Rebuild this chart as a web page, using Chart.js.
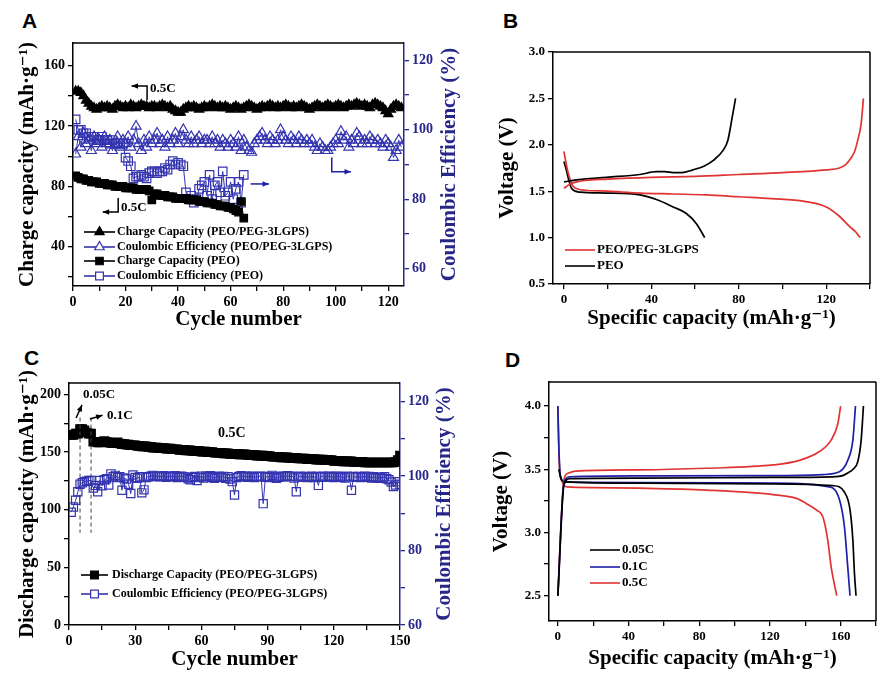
<!DOCTYPE html>
<html>
<head>
<meta charset="utf-8">
<title>LGPS cells</title>
<script src="https://cdn.jsdelivr.net/npm/chart.js@4.4.1/dist/chart.umd.min.js"></script>
<style>
  body { margin: 0; background: #fff; width: 880px; height: 681px; position: relative; overflow: hidden; }
  canvas { position: absolute; }
  .tag { position: absolute; font: bold 21px "Liberation Sans", Arial, sans-serif; line-height: 21px; }
</style>
</head>
<body>
<div class="tag" style="left:22px;top:10px">A</div>
<div class="tag" style="left:503px;top:10px">B</div>
<div class="tag" style="left:24px;top:347px">C</div>
<div class="tag" style="left:505px;top:349px">D</div>
<canvas id="chartA" width="470" height="340" style="left:0;top:0"></canvas>
<canvas id="chartB" width="410" height="340" style="left:470px;top:0"></canvas>
<canvas id="chartC" width="470" height="341" style="left:0;top:340px"></canvas>
<canvas id="chartD" width="410" height="341" style="left:470px;top:340px"></canvas>
<script>
// ---- panel A : cycling at 0.5C (cycle 1..n) ----
const aPegCap = [
  143,143,142,140,137,135,133,132,131,132,
  133,132,133,132,131,133,134,133,132,133,
  132,134,133,132,133,134,133,133,132,133,
  133,132,133,134,133,132,133,131,130,129,
  129,131,132,133,132,133,132,131,132,133,
  132,133,134,133,132,133,132,133,132,131,
  132,133,132,131,132,133,134,133,132,131,
  132,133,132,133,134,133,132,133,132,133,
  134,133,132,133,132,133,134,133,132,131,
  132,133,134,133,132,133,134,133,132,133,
  134,133,132,133,134,133,134,135,134,133,
  134,133,132,134,135,134,133,132,130,128,
  131,133,134,133,132
];
const aPegCE = [
  93,98,95,99,96,97,94,98,96,97,
  95,98,96,97,94,96,98,95,97,96,
  98,95,97,101,96,94,97,95,98,96,
  97,99,96,97,95,98,96,97,99,96,
  98,100,97,96,98,96,97,98,96,97,
  97,96,98,96,97,95,97,96,95,97,
  96,95,98,94,97,95,94,93.5,96,97,
  98,99,97,96,98,97,96,97,100,98,
  97,96,98,97,96,98,97,96,97,96,
  97,95,94,96,95,94,94,95,96,97,
  96,99.5,97,98,95,97,96,99,98,96,
  97,96,98,97,96,97,96,95,97,96,
  95,92,94,97,95
];
const aPeoCap = [
  87,86,85,85,84,84,83,83,83,82,
  82,82,81,81,81,80,80,80,80,79,
  79,79,79,78,78,78,78,78,77,71,
  75,75,74,74,74,73,73,73,72,72,
  72,72,72,71,71,71,71,70,70,70,
  69,69,69,68,68,67,67,67,66,66,
  65,64,63,70,59
];
const aPeoCE = [
  103,100,100,99,99,98,98,98,97,97,
  98,97,97,96,97,96,96,96,96,92,
  91,89.5,86,86.5,86.5,87,86.5,86,87.5,88,
  88,87.5,88,88,89,88.5,90,91,90,90.5,
  90,89.5,82,80,81,79,80,83,84,85,
  81,87,80,84,85,82,88,81,82,85,
  80,83,85,79,87
];
const aLabels = ['Charge Capacity (PEO/PEG-3LGPS)', 'Coulombic Efficiency (PEO/PEG-3LGPS)',
                 'Charge Capacity (PEO)', 'Coulombic Efficiency (PEO)'];
const aXTicks = [0,10,20,30,40,50,60,70,80,90,100,110,120];
const aXLabels = [0,20,40,60,80,100,120];
const aYTicks = [20,40,60,80,100,120,140,160];
const aYLabels = [40,80,120,160];
const aY2Ticks = [60,70,80,90,100,110,120];
const aY2Labels = [60,80,100,120];

// ---- panel B : voltage profiles ----
const bPegChgCap = [0, 3, 8, 20, 40, 60, 80, 100, 120, 126, 129, 131.4, 133, 134.4, 135.9, 137];
const bPegChgV   = [1.53, 1.58, 1.61, 1.63, 1.65, 1.66, 1.68, 1.70, 1.73, 1.75, 1.79, 1.86, 1.93, 2.05, 2.22, 2.5];
const bPegDisCap = [0, 1, 2, 4.3, 10, 20, 35, 50, 65, 80, 95, 110, 120, 126, 130.6, 133.5, 135.5];
const bPegDisV   = [1.93, 1.80, 1.69, 1.55, 1.51, 1.50, 1.48, 1.47, 1.46, 1.44, 1.42, 1.39, 1.33, 1.23, 1.12, 1.06, 1.0];
const bPeoChgCap = [0, 5, 19.5, 34.7, 42.3, 46, 50, 54, 59, 64, 68.2, 72.8, 75, 77, 78.5];
const bPeoChgV   = [1.60, 1.62, 1.65, 1.68, 1.71, 1.71, 1.70, 1.70, 1.73, 1.77, 1.83, 1.94, 2.05, 2.30, 2.50];
const bPeoDisCap = [0, 1, 2, 3.5, 7.3, 19.5, 34.7, 42.3, 50, 56, 60.6, 64.4];
const bPeoDisV   = [1.82, 1.74, 1.64, 1.53, 1.49, 1.48, 1.46, 1.41, 1.33, 1.26, 1.15, 1.0];
const bXTicks = [0,20,40,60,80,100,120,140];
const bXLabels = [0,40,80,120];
const bYTicks = [0.5,1.0,1.5,2.0,2.5,3.0];

// ---- panel C : rate then 0.5C cycling ----
const cCap = [
  165,165,166,166,170,170,169,167,166,166,
  159,159,158.5,158.5,159,159.5,159,158.5,158,158,
  158,158.5,157.5,157,157,156.5,156.5,156,156,156,
  155.5,155.5,155,155,155,154.5,154.5,154,154,154,
  153.5,153.5,153.5,153,153,153,152.5,152.5,152.5,152,
  152,152,151.5,151.5,151.5,151,151,151,151,150.5,
  150.5,150.5,150,150,150,149.5,149.5,149.5,149.5,149,
  149,149,148.5,148.5,148.5,148.5,148,148,148,148,
  147.5,147.5,147.5,147.5,147,147,147,147,146.5,146.5,
  146.5,146,146,146,146,145.5,145.5,145.5,145.5,145,
  145,145,145,144.5,144.5,144.5,144.5,144,144,144,
  144,143.5,143.5,143.5,143.5,143,143,143,143,142.5,
  142.5,142.5,142.5,142,142,142,142,142,141.5,141.5,
  141.5,141.5,141.5,141,141,141,141,141,141,141,
  141,141,141,141,141,141,141,141.5,143,147
];
const cCE = [
  90.3,91.7,93.5,95.8,97.8,98.2,98.5,98.6,98.8,98.8,
  96.8,97.5,95.8,98.8,97.4,99,99.3,97.6,100.6,99.8,
  100.2,99.6,99.8,96.2,99.5,99.2,97.8,95.3,100.3,99.6,
  99.4,99.8,95.5,96.3,99.6,99.8,100,100.2,99.9,100,
  99.8,100,100.1,99.7,99.9,100,99.8,100.1,99.6,99.9,
  100,99.8,99.7,99.3,99,99.6,99.9,98.8,99.7,100,
  99.5,100,99.8,100.1,99.6,99.4,99.8,100,99.7,99.9,
  99.4,99.8,99.2,98.5,94.9,99.6,99.9,100.1,99.8,100,
  99.7,99.9,100,99.6,99.8,99.9,100,92.6,99.7,99.9,
  99.6,100.2,99.8,99.4,99.7,100,99.9,99.8,100.1,99.9,
  100,99.5,95.8,99.8,100,99.7,99.9,99.6,99.8,100,
  99.6,99.9,97.5,99.8,100,99.7,99.9,100,99.8,99.6,
  99.9,100,99.7,99.8,99.5,100,99.8,96.2,99.9,99.7,
  99.9,99.6,99.8,100,99.7,99.9,99.5,99.8,99.6,99.4,
  99.7,99.5,99.8,99.3,99,98.4,97.2,97.6,98.5,97.8
];
const cXTicks = [0,15,30,45,60,75,90,105,120,135,150];
const cXLabels = [0,30,60,90,120,150];
const cYTicks = [0,25,50,75,100,125,150,175,200];
const cYLabels = [0,50,100,150,200];
const cY2Ticks = [60,70,80,90,100,110,120];
const cY2Labels = [60,80,100,120];

// ---- panel D : voltage profiles at three rates ----
const dBlackChgCap = [0, 3.5, 6.8, 46, 121.7, 155, 161.2, 164, 167, 169.7, 171.6, 172.9];
const dBlackChgV   = [2.5, 3.38, 3.425, 3.43, 3.435, 3.44, 3.45, 3.47, 3.50, 3.56, 3.73, 4.0];
const dBlackDisCap = [0.5, 2, 4, 46, 121.7, 155.6, 162.1, 165.3, 166.9, 167.8, 168.7];
const dBlackDisV   = [3.5, 3.42, 3.40, 3.39, 3.385, 3.37, 3.32, 3.18, 2.94, 2.68, 2.5];
const dBlueChgCap  = [0, 3.5, 6.8, 46, 121.7, 150, 159.3, 164, 166.9, 168.4];
const dBlueChgV    = [2.5, 3.40, 3.44, 3.447, 3.45, 3.458, 3.48, 3.57, 3.73, 4.0];
const dBlueDisCap  = [0, 0.5, 1.5, 4, 46, 121.7, 153.7, 159.3, 162.1, 164, 165.3];
const dBlueDisV    = [4.0, 3.7, 3.44, 3.40, 3.395, 3.39, 3.36, 3.26, 3.05, 2.73, 2.5];
const dRedChgCap   = [0, 3.5, 6, 10, 46, 84, 121.7, 136.7, 148, 154.6, 158.4, 160];
const dRedChgV     = [2.5, 3.42, 3.47, 3.485, 3.495, 3.508, 3.534, 3.57, 3.64, 3.73, 3.86, 4.0];
const dRedDisCap   = [0, 1, 2.5, 5, 20, 46, 84, 121.7, 135, 140.5, 146, 150, 152.7, 154.6, 157.8];
const dRedDisV     = [4.0, 3.5, 3.40, 3.36, 3.355, 3.35, 3.335, 3.30, 3.27, 3.23, 3.18, 3.12, 2.94, 2.73, 2.5];
const dXTicks = [0,20,40,60,80,100,120,140,160,180];
const dXLabels = [0,40,80,120,160];
const dYTicks = [2.5,2.75,3.0,3.25,3.5,3.75,4.0];
const dYLabels = [2.5,3.0,3.5,4.0];

// ---- common stuff ----
const serif = '"Liberation Serif", "Times New Roman", "DejaVu Serif", serif';
const navy = '#27278a';
const ceBlue = '#3434b0';
const red = '#e03434';
const lineBlue = '#1f1fa8';
Chart.defaults.font.family = serif;
Chart.defaults.font.weight = 'bold';
Chart.defaults.color = '#000';
Chart.defaults.animation = false;

const toXY = arr => arr.map((v, i) => ({ x: i + 1, y: v }));
const pairs = (xs, ys) => xs.map((x, i) => ({ x: x, y: ys[i] }));
const oneDec = v => v.toFixed(1);

function axis(pos, min, max, tickVals, labelVals, fmt, color, size, fontSize, title) {
    return {
        type: 'linear', position: pos, min: min, max: max,
        afterBuildTicks: s => { s.ticks = tickVals.map(v => ({ value: v })); },
        afterFit: s => { if (pos === 'bottom') s.height = size; else s.width = size; },
        grid: { drawOnChartArea: false, drawTicks: true, tickLength: 5, color: color, lineWidth: 1.3 },
        border: { display: true, color: color, width: 1.5 },
        ticks: {
            color: color, autoSkip: false, maxRotation: 0, padding: 3,
            font: { size: fontSize, weight: 'bold' },
            callback: v => labelVals.includes(v) ? fmt(v) : ''
        },
        title: title ? { display: true, text: title.text, color: '#000',
                         font: { size: 21, weight: 'bold' }, padding: title.padding }
                     : { display: false }
    };
}

function line(ctx, x1, y1, x2, y2, color, w) {
    ctx.strokeStyle = color;
    ctx.lineWidth = w;
    ctx.beginPath();
    ctx.moveTo(x1, y1);
    ctx.lineTo(x2, y2);
    ctx.stroke();
}

// polyline with an arrow head at the last point
function arrow(ctx, pts, color) {
    ctx.strokeStyle = color;
    ctx.fillStyle = color;
    ctx.lineWidth = 1.5;
    ctx.beginPath();
    ctx.moveTo(pts[0][0], pts[0][1]);
    for (let i = 1; i < pts.length; i++) ctx.lineTo(pts[i][0], pts[i][1]);
    ctx.stroke();
    const [x2, y2] = pts[pts.length - 1];
    const [x1, y1] = pts[pts.length - 2];
    const ang = Math.atan2(y2 - y1, x2 - x1);
    ctx.beginPath();
    ctx.moveTo(x2, y2);
    ctx.lineTo(x2 - 7 * Math.cos(ang - 0.4), y2 - 7 * Math.sin(ang - 0.4));
    ctx.lineTo(x2 - 7 * Math.cos(ang + 0.4), y2 - 7 * Math.sin(ang + 0.4));
    ctx.closePath();
    ctx.fill();
}

function text(ctx, str, x, y, size, color, align) {
    ctx.font = 'bold ' + size + 'px ' + serif;
    ctx.fillStyle = color || '#000';
    ctx.textAlign = align || 'left';
    ctx.textBaseline = 'middle';
    ctx.fillText(str, x, y);
}

function vTitle(ctx, str, x, y, color) {
    ctx.save();
    ctx.translate(x, y);
    ctx.rotate(-Math.PI / 2);
    text(ctx, str, 0, 0, 21, color, 'center');
    ctx.restore();
}

// legend drawn inside the plot: line + marker + label for every dataset
function legend(chart, x0, x1, tx, rows, fontSize) {
    const ctx = chart.ctx;
    const a = chart.chartArea;
    chart.data.datasets.forEach((ds, i) => {
        const y = a.top + rows[i];
        line(ctx, a.left + x0, y, a.left + x1, y, ds.borderColor, 1.6);
        if (ds.pointRadius) {
            ctx.fillStyle = ds.legendFill;
            ctx.strokeStyle = ds.pointBorderColor;
            ctx.lineWidth = 1.2;
            Chart.helpers.drawPoint(ctx, { pointStyle: ds.pointStyle, radius: Math.min(ds.pointRadius, 5.5), rotation: 0, borderWidth: 1.2 },
                                    a.left + (x0 + x1) / 2, y);
        }
        text(ctx, ds.label, a.left + tx, y, fontSize, '#000');
    });
}

function markerSet(label, values, axisId, color, style, radius, open) {
    return {
        label: label, data: toXY(values), yAxisID: axisId,
        borderColor: color, borderWidth: 1,
        pointStyle: style, pointRadius: radius, pointBorderWidth: 1.2,
        pointBorderColor: color,
        pointBackgroundColor: open ? 'rgba(255,255,255,0)' : color,
        legendFill: open ? '#fff' : color
    };
}

function curve(label, xs, ys, color) {
    return {
        label: label, data: pairs(xs, ys), borderColor: color, borderWidth: 1.7,
        pointRadius: 0, cubicInterpolationMode: 'monotone', legendFill: color, pointBorderColor: color
    };
}

// ---- A ----
new Chart(document.getElementById('chartA'), {
    type: 'line',
    data: {
        datasets: [
            markerSet(aLabels[0], aPegCap, 'y', '#000', 'triangle', 5.4, false),
            markerSet(aLabels[1], aPegCE, 'y2', ceBlue, 'triangle', 5.8, true),
            markerSet(aLabels[2], aPeoCap, 'y', '#000', 'rect', 5.3, false),
            markerSet(aLabels[3], aPeoCE, 'y2', ceBlue, 'rect', 6, true)
        ]
    },
    options: {
        responsive: false,
        layout: { padding: { top: 43, left: 0, right: 0, bottom: 0 }, autoPadding: false },
        plugins: { legend: { display: false }, tooltip: { enabled: false } },
        scales: {
            x: axis('bottom', 0, 126, aXTicks, aXLabels, String, '#000', 54, 14,
                    { text: 'Cycle number', padding: { top: 0, bottom: 8 } }),
            y: axis('left', 14, 175, aYTicks, aYLabels, String, '#000', 73, 14,
                    { text: 'Charge capacity (mAh·g⁻¹)', padding: { top: 15, bottom: 0 } }),
            y2: axis('right', 55, 125, aY2Ticks, aY2Labels, String, navy, 66, 14)
        }
    },
    plugins: [{
        id: 'decorA',
        afterDraw(chart) {
            const { ctx, chartArea: a, scales: { x, y, y2 } } = chart;
            ctx.save();
            line(ctx, a.left, a.top, a.right, a.top, '#000', 1.5);
            arrow(ctx, [[x.getPixelForValue(28.2), y.getPixelForValue(137)],
                        [x.getPixelForValue(28.2), y.getPixelForValue(146.5)],
                        [x.getPixelForValue(22.3), y.getPixelForValue(146.5)]], '#000');
            text(ctx, '0.5C', x.getPixelForValue(29.3), y.getPixelForValue(144.5), 13);
            arrow(ctx, [[x.getPixelForValue(17.2), y.getPixelForValue(72.3)],
                        [x.getPixelForValue(17.2), y.getPixelForValue(63)],
                        [x.getPixelForValue(11.3), y.getPixelForValue(63)]], '#000');
            text(ctx, '0.5C', x.getPixelForValue(18.3), y.getPixelForValue(66), 13);
            arrow(ctx, [[x.getPixelForValue(67.6), y2.getPixelForValue(84.4)],
                        [x.getPixelForValue(74.6), y2.getPixelForValue(84.4)]], lineBlue);
            arrow(ctx, [[x.getPixelForValue(98.5), y2.getPixelForValue(92)],
                        [x.getPixelForValue(98.5), y2.getPixelForValue(87.9)],
                        [x.getPixelForValue(105.8), y2.getPixelForValue(87.9)]], lineBlue);
            legend(chart, 11, 42, 44, [189, 204, 218, 233], 12);
            vTitle(ctx, 'Coulombic Efficiency (%)', 450, (a.top + a.bottom) / 2, navy);
            ctx.restore();
        }
    }]
});

// ---- B ----
new Chart(document.getElementById('chartB'), {
    type: 'line',
    data: {
        datasets: [
            curve('PEO/PEG-3LGPS', bPegChgCap, bPegChgV, red),
            curve('PEO', bPeoChgCap, bPeoChgV, '#000'),
            curve('', bPegDisCap, bPegDisV, red),
            curve('', bPeoDisCap, bPeoDisV, '#000')
        ]
    },
    options: {
        responsive: false,
        layout: { padding: { top: 52, left: 0, right: 10, bottom: 0 }, autoPadding: false },
        plugins: { legend: { display: false }, tooltip: { enabled: false } },
        scales: {
            x: axis('bottom', -5, 140, bXTicks, bXLabels, String, '#000', 56, 13,
                    { text: 'Specific capacity (mAh·g⁻¹)', padding: { top: 0, bottom: 9 } }),
            y: axis('left', 0.5, 3.0, bYTicks, bYTicks, oneDec, '#000', 83, 13,
                    { text: 'Voltage (V)', padding: { top: 25, bottom: 0 } })
        }
    },
    plugins: [{
        id: 'decorB',
        afterDraw(chart) {
            const { ctx, chartArea: a } = chart;
            ctx.save();
            line(ctx, a.left, a.top, a.right, a.top, '#000', 1.5);
            line(ctx, a.right, a.top, a.right, a.bottom, '#000', 1.5);
            const two = { ctx: ctx, chartArea: a, data: { datasets: chart.data.datasets.slice(0, 2) } };
            legend(two, 12, 42, 44, [198, 214], 13);
            ctx.restore();
        }
    }]
});

// ---- C ----
new Chart(document.getElementById('chartC'), {
    type: 'line',
    data: {
        datasets: [
            markerSet('Discharge Capacity (PEO/PEG-3LGPS)', cCap, 'y', '#000', 'rect', 6, false),
            markerSet('Coulombic Efficiency (PEO/PEG-3LGPS)', cCE, 'y2', ceBlue, 'rect', 5.8, true)
        ]
    },
    options: {
        responsive: false,
        layout: { padding: { top: 43, left: 0, right: 0, bottom: 0 }, autoPadding: false },
        plugins: { legend: { display: false }, tooltip: { enabled: false } },
        scales: {
            x: axis('bottom', 0, 150, cXTicks, cXLabels, String, '#000', 56, 14,
                    { text: 'Cycle number', padding: { top: 0, bottom: 9 } }),
            y: axis('left', 0, 210, cYTicks, cYLabels, String, '#000', 69, 14,
                    { text: 'Discharge capacity (mAh·g⁻¹)', padding: { top: 15, bottom: 0 } }),
            y2: axis('right', 60, 125, cY2Ticks, cY2Labels, String, navy, 70, 14)
        }
    },
    plugins: [{
        id: 'decorC',
        afterDraw(chart) {
            const { ctx, chartArea: a, scales: { x, y } } = chart;
            ctx.save();
            line(ctx, a.left, a.top, a.right, a.top, '#000', 1.5);
            ctx.setLineDash([4, 3]);
            line(ctx, x.getPixelForValue(5), y.getPixelForValue(180), x.getPixelForValue(5), y.getPixelForValue(80), '#444', 1);
            line(ctx, x.getPixelForValue(10), y.getPixelForValue(180), x.getPixelForValue(10), y.getPixelForValue(80), '#444', 1);
            ctx.setLineDash([]);
            arrow(ctx, [[x.getPixelForValue(3.2), y.getPixelForValue(179.6)],
                        [x.getPixelForValue(5.9), y.getPixelForValue(191)]], '#000');
            text(ctx, '0.05C', x.getPixelForValue(6.3), y.getPixelForValue(199.6), 13);
            arrow(ctx, [[x.getPixelForValue(9.5), y.getPixelForValue(178.7)],
                        [x.getPixelForValue(15.2), y.getPixelForValue(182)]], '#000');
            text(ctx, '0.1C', x.getPixelForValue(17.2), y.getPixelForValue(182), 13);
            text(ctx, '0.5C', x.getPixelForValue(67.5), y.getPixelForValue(166.5), 14);
            legend(chart, 12, 39, 43, [192, 211], 12);
            vTitle(ctx, 'Coulombic Efficiency (%)', 445, (a.top + a.bottom) / 2, navy);
            ctx.restore();
        }
    }]
});

// ---- D ----
new Chart(document.getElementById('chartD'), {
    type: 'line',
    data: {
        datasets: [
            curve('0.05C', dBlackChgCap, dBlackChgV, '#000'),
            curve('0.1C', dBlueChgCap, dBlueChgV, lineBlue),
            curve('0.5C', dRedChgCap, dRedChgV, red),
            curve('', dBlackDisCap, dBlackDisV, '#000'),
            curve('', dBlueDisCap, dBlueDisV, lineBlue),
            curve('', dRedDisCap, dRedDisV, red)
        ]
    },
    options: {
        responsive: false,
        layout: { padding: { top: 42, left: 0, right: 4, bottom: 0 }, autoPadding: false },
        plugins: { legend: { display: false }, tooltip: { enabled: false } },
        scales: {
            x: axis('bottom', -5, 180, dXTicks, dXLabels, String, '#000', 60, 13,
                    { text: 'Specific capacity (mAh·g⁻¹)', padding: { top: 0, bottom: 10 } }),
            y: axis('left', 2.3, 4.19, dYTicks, dYLabels, oneDec, '#000', 79, 13,
                    { text: 'Voltage (V)', padding: { top: 19, bottom: 0 } })
        }
    },
    plugins: [{
        id: 'decorD',
        afterDraw(chart) {
            const { ctx, chartArea: a } = chart;
            ctx.save();
            line(ctx, a.left, a.top, a.right, a.top, '#000', 1.5);
            line(ctx, a.right, a.top, a.right, a.bottom, '#000', 1.5);
            const three = { ctx: ctx, chartArea: a, data: { datasets: chart.data.datasets.slice(0, 3) } };
            legend(three, 41, 71, 73, [168, 185, 201], 13);
            ctx.restore();
        }
    }]
});
</script>
</body>
</html>
